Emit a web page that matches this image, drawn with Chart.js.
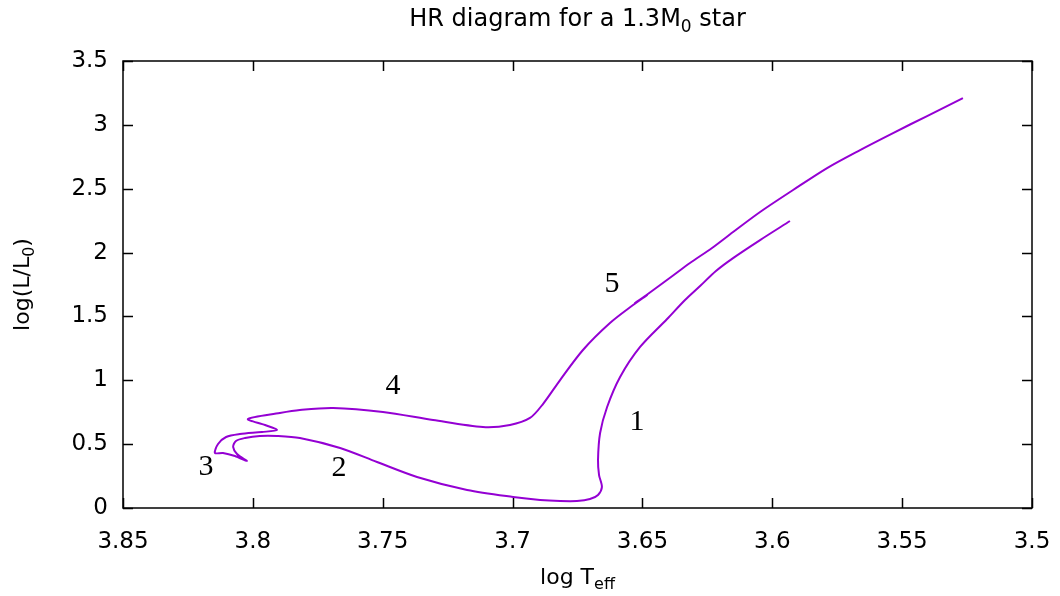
<!DOCTYPE html>
<html lang="en">
<head>
<meta charset="UTF-8">
<title>HR diagram</title>
<script src="https://cdn.jsdelivr.net/npm/chart.js"></script>
<style>
  html, body { margin: 0; padding: 0; background: #fff; }
  #wrap { width: 1060px; height: 596px; }
</style>
</head>
<body>
<div id="wrap"><canvas id="hr"></canvas></div>

<script>
// evolutionary track of the 1.3 solar mass model (log Teff, log L/L0)
const logT = [
  3.5932, 3.6047, 3.6151, 3.6217, 3.6278, 3.6336, 3.6405, 3.6509, 3.6586, 3.6636,
  3.6663, 3.6671, 3.6667, 3.6656, 3.6671, 3.6702, 3.6752, 3.6817, 3.6894, 3.6998,
  3.7175, 3.7368, 3.7522, 3.7664, 3.7819, 3.7907, 3.7973, 3.8030, 3.8065, 3.8076,
  3.8061, 3.8023, 3.8069, 3.8115, 3.8146, 3.8134, 3.8103, 3.8050, 3.7965, 3.7907,
  3.7953, 3.8019, 3.7896, 3.7819, 3.7691, 3.7499, 3.7306, 3.7114, 3.7010, 3.6933,
  3.6883, 3.6817, 3.6729, 3.6625, 3.6536, 3.6482, 3.6529, 3.6479, 3.6382, 3.6317,
  3.6232, 3.6151, 3.6047, 3.5920, 3.5789, 3.5662, 3.5535, 3.5404, 3.5266
];
const logL = [
  2.247, 2.098, 1.957, 1.856, 1.738, 1.629, 1.480, 1.261, 1.026, 0.791,
  0.587, 0.376, 0.258, 0.164, 0.102, 0.070, 0.055, 0.055, 0.063, 0.086,
  0.141, 0.243, 0.360, 0.470, 0.548, 0.564, 0.564, 0.548, 0.525, 0.478,
  0.423, 0.368, 0.407, 0.431, 0.431, 0.501, 0.556, 0.579, 0.595, 0.611,
  0.650, 0.697, 0.744, 0.767, 0.783, 0.752, 0.689, 0.634, 0.650, 0.705,
  0.814, 1.002, 1.237, 1.448, 1.589, 1.668, 1.605, 1.676, 1.820, 1.918,
  2.036, 2.161, 2.318, 2.490, 2.662, 2.803, 2.936, 3.069, 3.210
];

// phase numbers written next to the track
const stageNames = ['1', '2', '3', '4', '5'];
const stageT = [3.6521, 3.7668, 3.818, 3.746, 3.6617];
const stageL = [0.673, 0.313, 0.321, 0.955, 1.754];

const xMin = 3.5, xMax = 3.85, xStep = 0.05;
const yMin = 0, yMax = 3.5, yStep = 0.5;

const SANS = '"DejaVu Sans", sans-serif';

// text with subscript pieces, centred on (x, y)
function richText(c, parts, x, y, size) {
  const fontOf = p => (p.sub ? Math.round(size * 0.72) : size) + 'px ' + SANS;
  let w = 0;
  parts.forEach(p => { c.font = fontOf(p); w += c.measureText(p.t).width; });
  let cx = x - w / 2;
  c.textBaseline = 'middle';
  c.textAlign = 'left';
  parts.forEach(p => {
    c.font = fontOf(p);
    c.fillText(p.t, cx, p.sub ? y + size * 0.3 : y);
    cx += c.measureText(p.t).width;
  });
}

const framePlugin = {
  id: 'frame',
  afterDraw(chart) {
    const c = chart.ctx, a = chart.chartArea;
    const xs = chart.scales.x, ys = chart.scales.y;
    c.save();
    c.strokeStyle = '#000';
    c.lineWidth = 1.5;
    c.strokeRect(a.left, a.top, a.right - a.left, a.bottom - a.top);

    // inward ticks on all four sides
    const tl = 10;
    c.beginPath();
    xs.ticks.forEach(t => {
      const px = Math.round(xs.getPixelForValue(t.value)) + 0.5;
      c.moveTo(px, a.bottom); c.lineTo(px, a.bottom - tl);
      c.moveTo(px, a.top); c.lineTo(px, a.top + tl);
    });
    ys.ticks.forEach(t => {
      const py = Math.round(ys.getPixelForValue(t.value)) + 0.5;
      c.moveTo(a.left, py); c.lineTo(a.left + tl, py);
      c.moveTo(a.right, py); c.lineTo(a.right - tl, py);
    });
    c.stroke();

    c.fillStyle = '#000';
    richText(c, [{ t: 'HR diagram for a 1.3M' }, { t: '0', sub: true }, { t: ' star' }],
      (a.left + a.right) / 2, 20, 24);
    richText(c, [{ t: 'log T' }, { t: 'eff', sub: true }],
      (a.left + a.right) / 2, 578, 22);

    c.save();
    c.translate(23, (a.top + a.bottom) / 2);
    c.rotate(-Math.PI / 2);
    richText(c, [{ t: 'log(L/L' }, { t: '0', sub: true }, { t: ')' }], 0, 0, 22);
    c.restore();

    // phase labels
    c.font = '30px "Liberation Serif", "DejaVu Serif", serif';
    c.textAlign = 'center';
    c.textBaseline = 'middle';
    stageNames.forEach((s, i) => {
      c.fillText(s, xs.getPixelForValue(stageT[i]), ys.getPixelForValue(stageL[i]));
    });
    c.restore();
  }
};

const track = logT.map((t, i) => ({ x: t, y: logL[i] }));

new Chart(document.getElementById('hr'), {
  type: 'scatter',
  data: {
    datasets: [{
      data: track,
      showLine: true,
      borderColor: '#9400d3',
      borderWidth: 2,
      pointRadius: 0,
      tension: 0.3
    }]
  },
  options: {
    responsive: true,
    maintainAspectRatio: false,
    animation: false,
    layout: { autoPadding: false, padding: { top: 61, right: 28, left: 0, bottom: 0 } },
    plugins: { legend: { display: false }, tooltip: { enabled: false } },
    scales: {
      x: {
        type: 'linear',
        reverse: true,
        min: xMin, max: xMax,
        grid: { display: false, drawTicks: false },
        border: { display: false },
        afterFit(s) {
          s.height = 88;
          s.paddingLeft = 0;
          s.paddingRight = 0;
        },
        ticks: {
          stepSize: xStep,
          padding: 20,
          color: '#000',
          font: { family: SANS, size: 23 },
          callback: v => String(parseFloat(v.toFixed(2)))
        }
      },
      y: {
        type: 'linear',
        min: yMin, max: yMax,
        grid: { display: false, drawTicks: false },
        border: { display: false },
        afterFit(s) {
          s.width = 123;
          s.paddingTop = 0;
          s.paddingBottom = 0;
        },
        ticks: {
          stepSize: yStep,
          padding: 15,
          color: '#000',
          font: { family: SANS, size: 23 },
          callback: v => String(parseFloat(v.toFixed(2)))
        }
      }
    }
  },
  plugins: [framePlugin]
});
</script>
</body>
</html>
